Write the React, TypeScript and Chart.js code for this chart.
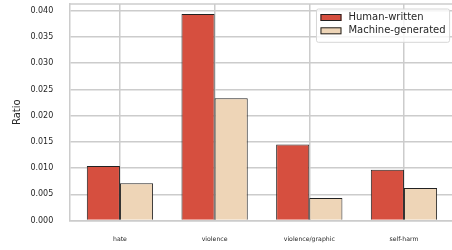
import React, { useEffect, useRef } from "react";
import { Chart, registerables } from "chart.js";

Chart.register(...registerables);

const categories = ["hate", "violence", "violence/graphic", "self-harm"];
const humanWritten = [0.0104, 0.0394, 0.0145, 0.0097];
const machineGenerated = [0.0071, 0.0233, 0.0043, 0.0062];
const seriesLabels = ["Human-written", "Machine-generated"];
const yTicks = [0, 0.005, 0.01, 0.015, 0.02, 0.025, 0.03, 0.035, 0.04];
const yMax = 0.0413;
const xMin = -0.535;
const xMax = 3.535;

const FONT = "'DejaVu Sans', sans-serif";
const TEXT = "#262626";
const GRID = "#cccccc";

const boxLegend = {
  id: "boxLegend",
  afterDraw(chart: any) {
    const { ctx, chartArea } = chart;
    // top spine
    ctx.save();
    ctx.strokeStyle = GRID;
    ctx.lineWidth = 1.5;
    ctx.beginPath();
    ctx.moveTo(chartArea.left, chartArea.top);
    ctx.lineTo(chartArea.right, chartArea.top);
    ctx.stroke();

    const fs = 10;
    ctx.font = `${fs}px ${FONT}`;
    const ds = chart.data.datasets;
    let maxW = 0;
    ds.forEach((d: any) => {
      maxW = Math.max(maxW, ctx.measureText(d.label).width);
    });
    const pad = 0.4 * fs;
    const handle = 2.1 * fs;
    const textPad = 0.7 * fs;
    const w = pad + handle + textPad + maxW + pad;
    const h = 3.33 * fs;
    const right = chartArea.right - 0.5 * fs;
    const top = chartArea.top + 0.5 * fs;
    const left = right - w;
    const r = 2;
    ctx.beginPath();
    ctx.moveTo(left + r, top);
    ctx.lineTo(right - r, top);
    ctx.arcTo(right, top, right, top + r, r);
    ctx.lineTo(right, top + h - r);
    ctx.arcTo(right, top + h, right - r, top + h, r);
    ctx.lineTo(left + r, top + h);
    ctx.arcTo(left, top + h, left, top + h - r, r);
    ctx.lineTo(left, top + r);
    ctx.arcTo(left, top, left + r, top, r);
    ctx.closePath();
    ctx.fillStyle = "rgba(255,255,255,0.8)";
    ctx.fill();
    ctx.strokeStyle = "#d6d6d6";
    ctx.lineWidth = 1;
    ctx.stroke();

    ds.forEach((d: any, i: number) => {
      const cy = top + 0.85 * fs + i * 1.33 * fs;
      const sx = left + pad;
      const sh = 0.7 * fs;
      ctx.fillStyle = d.backgroundColor;
      ctx.fillRect(sx, cy - sh / 2, handle, sh);
      ctx.strokeStyle = "#222222";
      ctx.lineWidth = 1;
      ctx.strokeRect(sx + 0.5, cy - sh / 2 + 0.5, handle - 1, sh - 1);
      ctx.fillStyle = TEXT;
      ctx.textBaseline = "middle";
      ctx.textAlign = "left";
      ctx.fillText(d.label, sx + handle + textPad, cy);
    });
    ctx.restore();
  },
};

export default function App() {
  const ref = useRef<HTMLCanvasElement>(null);

  useEffect(() => {
    if (!ref.current) return;
    const chart = new Chart(ref.current, {
      type: "bar",
      data: {
        datasets: [
          {
            label: seriesLabels[0],
            data: categories.map((_, i) => ({ x: i, y: humanWritten[i] })),
            backgroundColor: "#d64f3f",
            borderColor: "#222222",
            borderWidth: 1,
          },
          {
            label: seriesLabels[1],
            data: categories.map((_, i) => ({ x: i, y: machineGenerated[i] })),
            backgroundColor: "#eed5b7",
            borderColor: "#222222",
            borderWidth: 1,
          },
        ],
      },
      options: {
        animation: false,
        responsive: false,
        maintainAspectRatio: false,
        datasets: { bar: { categoryPercentage: 0.7, barPercentage: 1.0 } },
        layout: { padding: { top: 4, right: 7.4, left: 0, bottom: 0 } },
        plugins: { legend: { display: false }, tooltip: { enabled: false } },
        scales: {
          x: {
            type: "linear",
            min: xMin,
            max: xMax,
            offset: false,
            afterBuildTicks: (s: any) => {
              s.ticks = categories.map((_, i) => ({ value: i }));
            },
            afterFit: (s: any) => {
              s.height = 29.5;
              s.paddingLeft = 0;
              s.paddingRight = 0;
            },
            grid: { color: GRID, lineWidth: 1.5, drawTicks: false, offset: false },
            border: { color: GRID, width: 1.5 },
            ticks: {
              padding: 15,
              color: TEXT,
              font: { family: FONT, size: 6.2 },
              maxRotation: 0,
              autoSkip: false,
              callback: (v: any) => categories[v as number] ?? "",
            },
          },
          y: {
            min: 0,
            max: yMax,
            afterBuildTicks: (s: any) => {
              s.ticks = yTicks.map((v) => ({ value: v }));
            },
            afterFit: (s: any) => {
              s.width = 69.3;
              s.paddingTop = 0;
              s.paddingBottom = 0;
            },
            grid: { color: GRID, lineWidth: 1.5, drawTicks: false },
            border: { color: GRID, width: 1.5 },
            ticks: {
              padding: 16,
              color: TEXT,
              font: { family: FONT, size: 8 },
              callback: (v: any) => Number(v).toFixed(3),
            },
            title: {
              display: true,
              text: "Ratio",
              color: TEXT,
              font: { family: FONT, size: 10 },
              padding: { top: 11, bottom: 0 },
            },
          },
        },
      },
      plugins: [boxLegend],
    });
    return () => chart.destroy();
  }, []);

  return (
    <div
      style={{
        position: "fixed",
        left: 0,
        top: 0,
        width: 452,
        height: 250,
        overflow: "hidden",
        background: "#fff",
      }}
    >
      <canvas ref={ref} width={462} height={250} style={{ display: "block" }} />
    </div>
  );
}
